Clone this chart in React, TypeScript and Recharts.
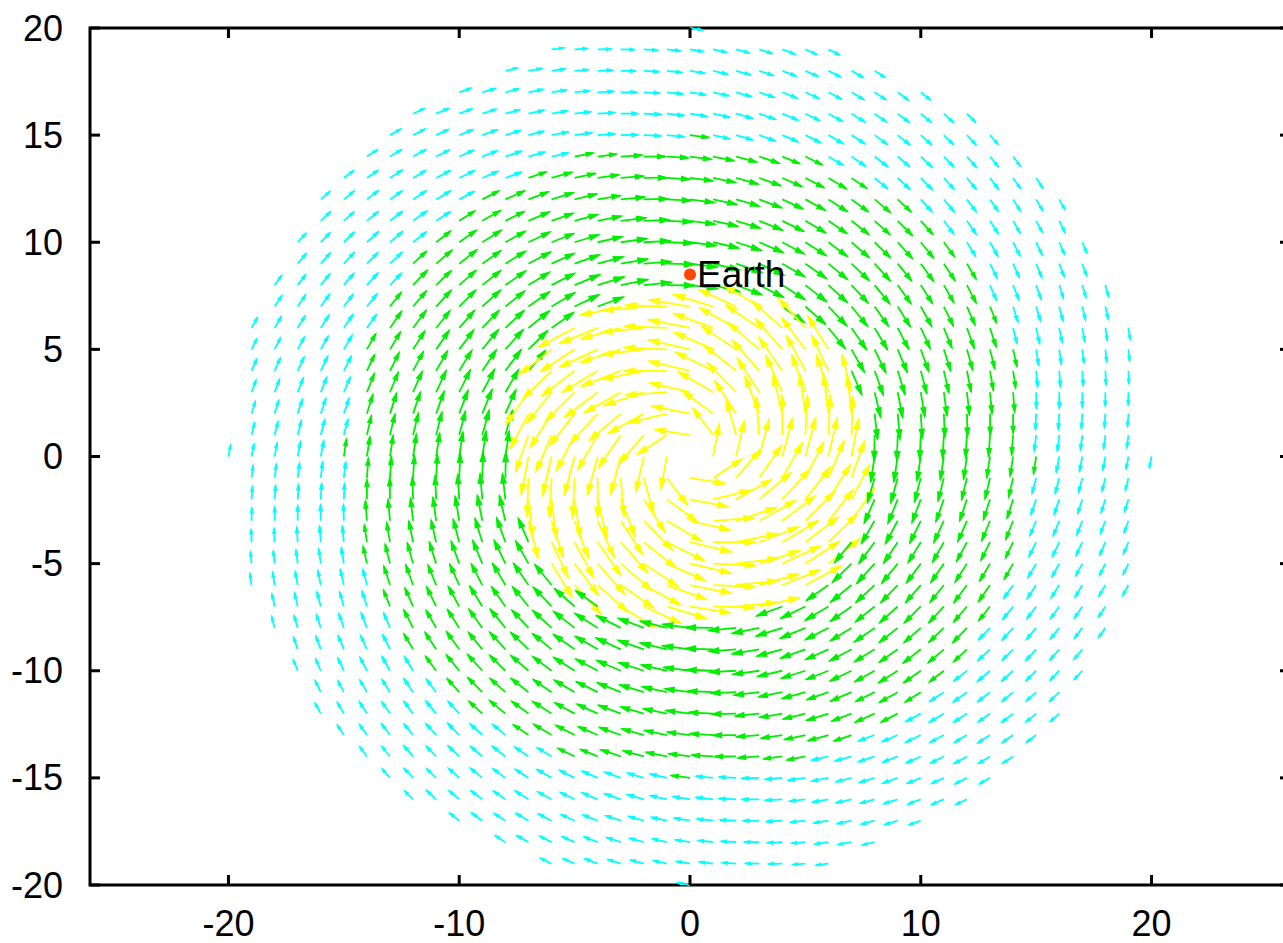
import React from 'react';
import { ScatterChart, Scatter, XAxis, YAxis, ReferenceLine, ReferenceArea } from 'recharts';

// ---------- axes ----------
const xTicks = [-20, -10, 0, 10, 20];
const yTicks = [-20, -15, -10, -5, 0, 5, 10, 15, 20];
const xDomain: [number, number] = [-26, 26];
const yDomain: [number, number] = [-20, 20];

// ---------- vector field, read ring by ring ----------
// sample points: integer grid points inside this radius
const gridMaxRadius = 20;
// ring (rounded radius) -> arrow length (axis units), pitch (deg, + outward / - inward), sense (+1 ccw, -1 cw)
const ringRadius = [1, 2, 3, 4, 5, 6, 7, 8, 9, 10, 11, 12, 13, 14, 15, 16, 17, 18, 19, 20];
const ringLength = [1.55, 1.7, 1.8, 1.85, 1.85, 1.85, 1.8, 1.2, 1.2, 1.15, 1.1, 1.05, 1.0, 0.93, 0.82, 0.75, 0.7, 0.65, 0.6, 0.55];
const ringPitch = [10, 12, 14, 14, 14, 12, 10, -8, -8, -8, -8, -8, -8, -8, -8, -10, -10, -10, -10, -10];
const ringSense = [1, 1, 1, 1, 1, 1, 1, -1, -1, -1, -1, -1, -1, -1, -1, -1, -1, -1, -1, -1];

// colour bands by radius
const bandUpperRadius = [7.95, 15.0, 20.0];
const bandFirstRing = [1, 8, 16];
const bandLastRing = [7, 15, 20];
const bandColor = ['#ffff00', '#00ee00', '#00ffff'];

const earthPoints = [{ x: 0, y: 8.5, label: 'Earth' }];

// ---------- layout ----------
const FONT = '"Liberation Sans", Arial, Helvetica, sans-serif';
const CHART_W = 1300;
const CHART_H = 943;
const MARGIN = { top: 28, right: 10, bottom: 0, left: 20 };
const Y_AXIS_W = 70;
const X_AXIS_H = 58;
const PLOT_W = CHART_W - MARGIN.left - MARGIN.right - Y_AXIS_W;
const PLOT_H = CHART_H - MARGIN.top - MARGIN.bottom - X_AXIS_H;
const TICK_LEN = 10;

type Vec = { key: string; x0: number; y0: number; x1: number; y1: number; color: string };

const vectors: Vec[] = [];
for (let gx = -gridMaxRadius; gx <= gridMaxRadius; gx++) {
  for (let gy = -gridMaxRadius; gy <= gridMaxRadius; gy++) {
    const r = Math.hypot(gx, gy);
    if (r === 0 || r > gridMaxRadius) continue;
    const band = bandUpperRadius.findIndex((u) => r <= u);
    const ring = Math.min(bandLastRing[band], Math.max(bandFirstRing[band], Math.round(r)));
    const i = ringRadius.indexOf(ring);
    const theta = Math.atan2(gy, gx);
    const ang = theta + ringSense[i] * (Math.PI / 2 - (ringPitch[i] * Math.PI) / 180);
    const L = ringLength[i];
    vectors.push({
      key: `${gx}_${gy}`,
      x0: gx,
      y0: gy,
      x1: gx + L * Math.cos(ang),
      y1: gy + L * Math.sin(ang),
      color: bandColor[band],
    });
  }
}
const tailPoints = vectors.map((v) => ({ x: v.x0, y: v.y0 }));

const ArrowShape = (p: any) => {
  const { x1, y1, x2, y2, stroke } = p;
  const dx = x2 - x1;
  const dy = y2 - y1;
  const len = Math.hypot(dx, dy);
  if (!len) return <g />;
  const phi = Math.atan2(dy, dx);
  const h = Math.min(11, len * 0.38);
  const a = 0.28;
  const ax = x2 - h * Math.cos(phi - a);
  const ay = y2 - h * Math.sin(phi - a);
  const bx = x2 - h * Math.cos(phi + a);
  const by = y2 - h * Math.sin(phi + a);
  return (
    <g>
      <path d={`M${x1},${y1}L${x2},${y2}`} stroke={stroke} strokeWidth={1.8} fill="none" />
      <path
        d={`M${ax},${ay}L${x2},${y2}L${bx},${by}Z`}
        stroke={stroke}
        strokeWidth={1.2}
        strokeLinejoin="miter"
        fill={stroke}
      />
    </g>
  );
};

const XTick = (p: any) => {
  const { x, y, payload } = p;
  return (
    <g>
      <line x1={x} y1={y} x2={x} y2={y - TICK_LEN} stroke="#000" strokeWidth={3} />
      <line x1={x} y1={y - PLOT_H} x2={x} y2={y - PLOT_H + TICK_LEN} stroke="#000" strokeWidth={3} />
      <text x={x} y={y + 51} textAnchor="middle" fontSize={36} fontFamily={FONT} fill="#000">
        {payload.value}
      </text>
    </g>
  );
};

const YTick = (p: any) => {
  const { x, y, payload } = p;
  return (
    <g>
      <line x1={x} y1={y} x2={x + TICK_LEN} y2={y} stroke="#000" strokeWidth={3} />
      <line x1={x + PLOT_W - TICK_LEN} y1={y} x2={x + PLOT_W} y2={y} stroke="#000" strokeWidth={3} />
      <text x={x - 27} y={y + 12.5} textAnchor="end" fontSize={36} fontFamily={FONT} fill="#000">
        {payload.value}
      </text>
    </g>
  );
};

const EarthShape = (p: any) => (
  <g>
    <circle cx={p.cx} cy={p.cy} r={6} fill="#ff4500" />
    <text x={p.cx + 7} y={p.cy + 13} fontSize={37} fontFamily={FONT} fill="#000">
      {p.payload.label}
    </text>
  </g>
);

export default function App() {
  return (
    <div
      style={{
        position: 'absolute',
        left: 0,
        top: 0,
        width: 1283,
        height: 943,
        overflow: 'hidden',
        background: '#fff',
      }}
    >
      <ScatterChart width={CHART_W} height={CHART_H} margin={MARGIN}>
        <XAxis
          type="number"
          dataKey="x"
          domain={xDomain}
          ticks={xTicks}
          interval={0}
          allowDataOverflow
          height={X_AXIS_H}
          tickSize={0}
          tickMargin={0}
          axisLine={false}
          tickLine={false}
          tick={<XTick />}
        />
        <YAxis
          type="number"
          dataKey="y"
          domain={yDomain}
          ticks={yTicks}
          interval={0}
          allowDataOverflow
          width={Y_AXIS_W}
          tickSize={0}
          tickMargin={0}
          axisLine={false}
          tickLine={false}
          tick={<YTick />}
        />
        {vectors.map((v) => (
          <ReferenceLine
            key={v.key}
            segment={[
              { x: v.x0, y: v.y0 },
              { x: v.x1, y: v.y1 },
            ]}
            stroke={v.color}
            ifOverflow="visible"
            shape={ArrowShape}
          />
        ))}
        <ReferenceArea
          x1={xDomain[0]}
          x2={xDomain[1]}
          y1={yDomain[0]}
          y2={yDomain[1]}
          fill="none"
          fillOpacity={0}
          stroke="#000"
          strokeWidth={3}
          ifOverflow="visible"
        />
        <Scatter data={tailPoints} shape={() => <g />} isAnimationActive={false} />
        <Scatter data={earthPoints} shape={EarthShape} isAnimationActive={false} />
      </ScatterChart>
    </div>
  );
}
